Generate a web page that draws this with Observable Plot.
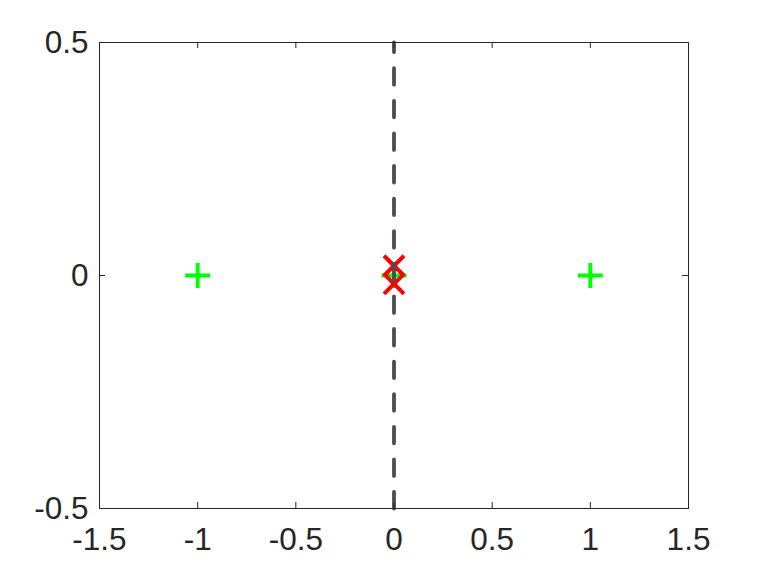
<!DOCTYPE html>
<html>
<head>
<meta charset="utf-8">
<script src="https://cdn.jsdelivr.net/npm/d3@7"></script>
<script src="https://cdn.jsdelivr.net/npm/@observablehq/plot@0.6"></script>
<style>
  html, body { margin: 0; padding: 0; background: #fff; }
</style>
</head>
<body>
<div id="chart"></div>
<script>
const xTicks = [-1.5, -1, -0.5, 0, 0.5, 1, 1.5];
const yTicks = [-0.5, 0, 0.5];
const zerosX = [-1, 0, 1];
const zerosY = [0, 0, 0];
const polesX = [0, 0];
const polesY = [0.021, -0.018];
const boundaryX = [0, 0];
const boundaryY = [-0.5, 0.5];

const zeros = zerosX.map((x, i) => ({x, y: zerosY[i]}));
const poles = polesX.map((x, i) => ({x, y: polesY[i]}));
const boundary = boundaryX.map((x, i) => ({x, y: boundaryY[i]}));

const plusSym = {
  draw(ctx, size) {
    const a = Math.sqrt(size / Math.PI);
    ctx.moveTo(-a, 0); ctx.lineTo(a, 0);
    ctx.moveTo(0, -a); ctx.lineTo(0, a);
  }
};
const timesSym = {
  draw(ctx, size) {
    const a = Math.sqrt(size / Math.PI);
    ctx.moveTo(-a, -a); ctx.lineTo(a, a);
    ctx.moveTo(-a, a); ctx.lineTo(a, -a);
  }
};

const W = 761, H = 571, mL = 99, mR = 73, mT = 42, mB = 63;
const innerW = W - mL - mR, innerH = H - mT - mB;
const axisColor = "#262626";
const fmt = d => String(d);

const chart = Plot.plot({
  width: W,
  height: H,
  marginLeft: mL,
  marginRight: mR,
  marginTop: mT,
  marginBottom: mB,
  x: {domain: [-1.5, 1.5]},
  y: {domain: [-0.5, 0.5]},
  style: {background: "#fff", color: axisColor, fontFamily: "'Liberation Sans', Arial, Helvetica, sans-serif"},
  marks: [
    Plot.axisX(xTicks, {tickSize: 0, tickPadding: 19, fontSize: 31.5, label: null, tickFormat: fmt, fill: axisColor}),
    Plot.axisY(yTicks, {tickSize: 0, tickPadding: 11, fontSize: 31.5, label: null, tickFormat: fmt, fill: axisColor}),
    Plot.dot(zeros, {x: "x", y: "y", symbol: plusSym, r: 12.5, fill: "none", stroke: "#00ff00", strokeWidth: 4}),
    Plot.dot(poles, {x: "x", y: "y", symbol: timesSym, r: 10, fill: "none", stroke: "#ff0000", strokeWidth: 4}),
    Plot.line(boundary, {x: "x", y: "y", stroke: "#4c4c56", strokeWidth: 3.8, strokeDasharray: "16.5,16.1"}),
    Plot.tickX(xTicks, {x: d => d, insetTop: innerH - 6, stroke: axisColor, strokeWidth: 1}),
    Plot.tickX(xTicks, {x: d => d, insetBottom: innerH - 6, stroke: axisColor, strokeWidth: 1}),
    Plot.tickY(yTicks, {y: d => d, insetRight: innerW - 6, stroke: axisColor, strokeWidth: 1}),
    Plot.tickY(yTicks, {y: d => d, insetLeft: innerW - 6, stroke: axisColor, strokeWidth: 1}),
    Plot.frame({stroke: axisColor, strokeWidth: 1})
  ]
});
document.getElementById("chart").appendChild(chart);
</script>
</body>
</html>
